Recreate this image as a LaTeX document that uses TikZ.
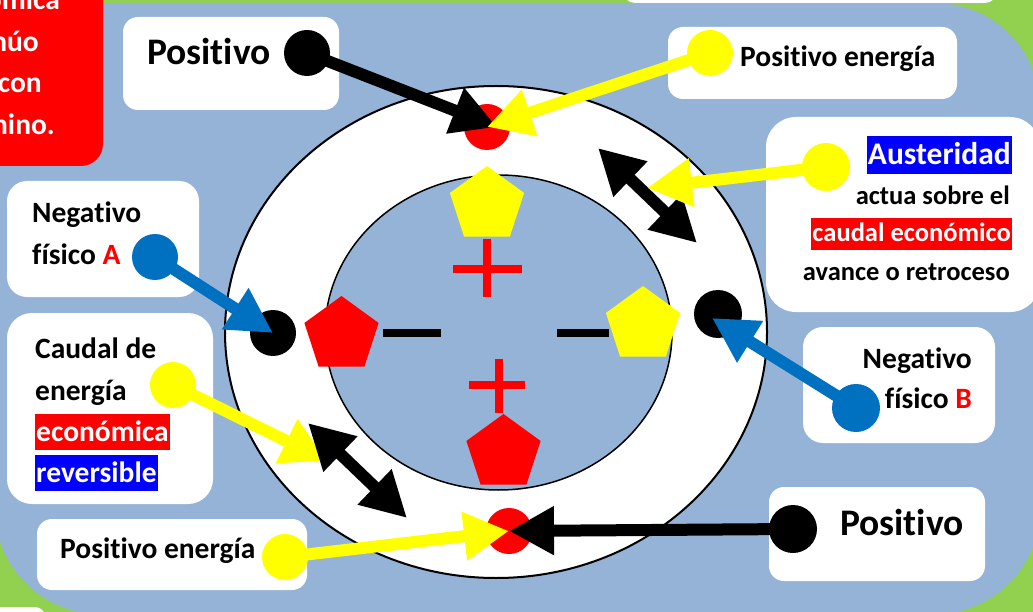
\documentclass[tikz,border=0pt]{standalone}
\usepackage{fontspec}
\setmainfont{Carlito}[Ligatures=CommonOff]
\usetikzlibrary{arrows.meta,shapes.geometric}
\definecolor{bgblue}{HTML}{95B3D7}
\definecolor{bggreen}{HTML}{92D050}
\definecolor{dotblue}{HTML}{0070C0}
\definecolor{hlblue}{HTML}{0000FF}
\definecolor{rd}{HTML}{FF0000}
\definecolor{yl}{HTML}{FFFF00}
\newcommand{\hlite}[2]{{\setlength{\fboxsep}{0pt}\colorbox{#1}{\rule[-0.3em]{0pt}{1.22em}\kern1pt\textcolor{white}{#2}\kern1pt}}}
\tikzset{
  box/.style={fill=white, rounded corners=15pt, inner sep=0pt},
  dot/.style={circle, inner sep=0pt, minimum size=46pt},
  pent/.style={regular polygon, regular polygon sides=5, inner sep=0pt, minimum size=78pt},
  txt/.style={inner sep=0pt, font=\fontsize{29.5}{34}\selectfont\bfseries},
  smalltxt/.style={inner sep=0pt, font=\fontsize{26.5}{32}\selectfont\bfseries},
  bigtxt/.style={inner sep=0pt, font=\fontsize{37.5}{44}\selectfont\bfseries},
  arr/.style={line width=12pt, -{Triangle[length=45pt,width=46pt]}},
  darr/.style={line width=12pt, {Triangle[length=45pt,width=46pt]}-{Triangle[length=45pt,width=46pt]}},
  bar/.style={line width=8pt},
}
\begin{document}
\begin{tikzpicture}[x=1pt,y=-1pt]
    \useasboundingbox (0,0) rectangle (1033,612);
    \fill[bggreen] (-50,-50) rectangle (1083,662);
    \fill[bgblue, rounded corners=105pt] (-5,3) rectangle (1040,614);

    \node[box, minimum width=374pt, minimum height=43pt, rounded corners=12pt] (topbox) at (810,-18.5) {};
    \node[box, minimum width=65pt, minimum height=33pt, rounded corners=10pt] (cornbox) at (12.5,623.5) {};
    \node[box, fill=rd, minimum width=143pt, minimum height=206pt, rounded corners=22pt] (redbox) at (31.5,63) {};
    \node[txt, white, anchor=base east] (red1) at (60,10) {ómica};
    \node[txt, white, anchor=base east] (red2) at (39,52) {núo};
    \node[txt, white, anchor=base east] (red3) at (42,93) {con};
    \node[txt, white, anchor=base east] (red4) at (55,135) {nino.};

    \node[box, minimum width=216pt, minimum height=93pt] (pbox1) at (231,63.5) {};
    \node[box, minimum width=289pt, minimum height=72pt] (pebox1) at (812.5,63) {};
    \node[box, minimum width=274pt, minimum height=195pt, rounded corners=30pt] (austbox) at (903,214.5) {};
    \node[box, minimum width=192pt, minimum height=116pt, rounded corners=20pt] (negAbox) at (103,239) {};
    \node[box, minimum width=206pt, minimum height=191pt, rounded corners=25pt] (caudbox) at (110,408.5) {};
    \node[box, minimum width=192pt, minimum height=116pt, rounded corners=20pt] (negBbox) at (899,385) {};
    \node[box, minimum width=270pt, minimum height=71pt] (pebox2) at (172,554.5) {};
    \node[box, minimum width=216pt, minimum height=94pt] (pbox2) at (877,534) {};

    \node[bigtxt, anchor=base west] (ptxt1) at (147,65) {Positivo};
    \node[txt, anchor=base west] (petxt1) at (740,67) {Positivo energía};
    \node[txt, anchor=base west] (petxt2) at (60,558) {Positivo energía};
    \node[bigtxt, anchor=base west] (ptxt2) at (840,535) {Positivo};
    \node[txt, anchor=base west] (negA1) at (32,223) {Negativo};
    \node[txt, anchor=base west] (negA2) at (32,265) {físico \textcolor{rd}{A}};
    \node[txt, anchor=base east] (negB1) at (972,368) {Negativo};
    \node[txt, anchor=base east] (negB2) at (972,408) {físico \textcolor{rd}{B}};
    \node[txt, anchor=base west] (caud1) at (35,358) {Caudal de};
    \node[txt, anchor=base west] (caud2) at (35,400) {energía};
    \node[txt, anchor=base west] (caud3) at (35,441) {\hlite{rd}{económica}};
    \node[txt, anchor=base west] (caud4) at (35,482) {\hlite{hlblue}{reversible}};
    \node[inner sep=0pt, font=\fontsize{31.5}{38}\selectfont\bfseries, anchor=base east] (aust1) at (1012,165) {\hlite{hlblue}{Austeridad}};
    \node[smalltxt, anchor=base east] (aust2) at (1010,205) {actua sobre el};
    \node[smalltxt, anchor=base east] (aust3) at (1012,242) {\hlite{rd}{caudal económico}};
    \node[smalltxt, anchor=base east] (aust4) at (1010,280) {avance o retroceso};

    \draw[line width=2pt, fill=white] (496,332) ellipse [x radius=271pt, y radius=246pt];
    \draw[line width=1.5pt, fill=bgblue] (498.5,332.5) ellipse [x radius=173.5pt, y radius=157.5pt];

    \node[pent, fill=yl] (ptop) at (487,205) {};
    \node[pent, fill=rd] (pleft) at (341.5,335) {};
    \node[pent, fill=yl] (pright) at (643,325) {};
    \node[pent, fill=rd] (pbot) at (503.5,453) {};
    \draw[bar, rd] (487,239) -- (487,297);
    \draw[bar, rd] (453,269) -- (522,269);
    \draw[bar, rd] (499,359) -- (499,413);
    \draw[bar, rd] (469,385) -- (525,385);
    \draw[bar] (383,333) -- (441,333);
    \draw[bar] (557,333) -- (609,333);

    \node[dot, fill=rd] (topdot) at (487,127) {};
    \node[dot, fill=rd] (botdot) at (509,531) {};
    \node[dot, fill=black] (ldot) at (273,333) {};
    \node[dot, fill=black, minimum size=48pt] (rdot) at (718,314) {};

    \node[dot, fill=black] (pdot1) at (307,53) {};
    \node[dot, fill=yl] (pedot1) at (710,53) {};
    \node[dot, fill=yl, minimum size=48pt] (austdot) at (826,167) {};
    \node[dot, fill=dotblue] (negAdot) at (155,257) {};
    \node[dot, fill=yl] (cauddot) at (173,385) {};
    \node[dot, fill=dotblue, minimum size=48pt] (negBdot) at (856,408) {};
    \node[dot, fill=yl] (pedot2) at (285,557) {};
    \node[dot, fill=black, minimum size=48pt] (pdot2) at (793,529) {};

    \coordinate (d1a) at (598,148);
    \coordinate (d1b) at (697,243);
    \coordinate (d2a) at (308,423);
    \coordinate (d2b) at (407,518);
    \coordinate (austtip) at (647,188);
    \coordinate (caudtip) at (327,461);

    \draw[arr] (pdot1.center) -- ([xshift=10pt]topdot.center);
    \draw[arr, yl] (pedot1.center) -- (topdot.center);
    \draw[darr] (d1a) -- (d1b);
    \draw[arr, yl] (austdot.center) -- (austtip);
    \draw[arr, dotblue] (negAdot.center) -- (ldot.center);
    \draw[arr, dotblue] (negBdot.center) -- ([shift={(-6,4)}]rdot.center);
    \draw[arr, yl] (cauddot.center) -- (caudtip);
    \draw[darr] (d2a) -- (d2b);
    \draw[arr, yl] (pedot2.center) -- (botdot.center);
    \draw[arr] (pdot2.center) -- (botdot.center);
\end{tikzpicture}
\end{document}
